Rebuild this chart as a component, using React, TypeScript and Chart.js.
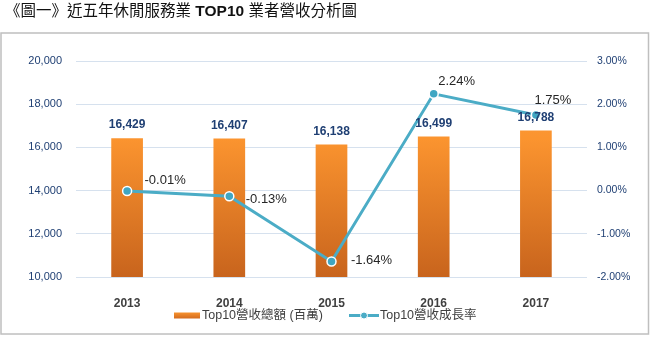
import React, { useEffect, useRef } from 'react';
import { Chart, registerables } from 'chart.js';

Chart.register(...registerables);

const years = ['2013', '2014', '2015', '2016', '2017'];
const revenue = [16429, 16407, 16138, 16499, 16788];
const growth = [-0.01, -0.13, -1.64, 2.24, 1.75];
const titleMain = '《圖一》近五年休閒服務業 ';
const titleBold = 'TOP10';
const titleEnd = ' 業者營收分析圖';
const barLabel = 'Top10營收總額 (百萬)';
const lineLabel = 'Top10營收成長率';
// label offsets (px) of growth labels relative to their points
const growthLabelOffsets = [
  [38, -11],
  [37, 3],
  [40, -1],
  [23, -12],
  [17, -15],
];

const FONT = "'Liberation Sans', 'Noto Sans CJK TC', sans-serif";
const LINE_COLOR = '#4BACC6';

const decorPlugin = {
  id: 'decor',
  afterDatasetsDraw(chart: any) {
    const ctx = chart.ctx;
    const barMeta = chart.getDatasetMeta(1);
    const lineMeta = chart.getDatasetMeta(0);
    ctx.save();
    ctx.font = `bold 12px ${FONT}`;
    ctx.fillStyle = '#1F3F73';
    ctx.textAlign = 'center';
    ctx.textBaseline = 'middle';
    barMeta.data.forEach((el: any, i: number) => {
      ctx.fillText(revenue[i].toLocaleString('en-US'), el.x, el.y - 13);
    });
    ctx.font = `13px ${FONT}`;
    ctx.fillStyle = '#262626';
    lineMeta.data.forEach((el: any, i: number) => {
      const [dx, dy] = growthLabelOffsets[i];
      ctx.fillText(growth[i].toFixed(2) + '%', el.x + dx, el.y + dy);
    });
    ctx.restore();
  },
  afterDraw(chart: any) {
    const ctx = chart.ctx;
    ctx.save();
    ctx.strokeStyle = '#BFBFBF';
    ctx.lineWidth = 1.5;
    ctx.strokeRect(1, 33, 647.5, 301);
    ctx.textBaseline = 'middle';
    ctx.textAlign = 'left';
    ctx.fillStyle = '#111';
    let x = 5;
    const ty = 12;
    ctx.font = `15.5px ${FONT}`;
    ctx.fillText(titleMain, x, ty);
    x += ctx.measureText(titleMain).width;
    ctx.font = `bold 15.5px ${FONT}`;
    ctx.fillText(titleBold, x, ty);
    x += ctx.measureText(titleBold).width;
    ctx.font = `15.5px ${FONT}`;
    ctx.fillText(titleEnd, x, ty);
    const ly = 315.5;
    const g = ctx.createLinearGradient(0, ly - 3, 0, ly + 3);
    g.addColorStop(0, '#F7922E');
    g.addColorStop(1, '#D36B1E');
    ctx.fillStyle = g;
    ctx.fillRect(174, ly - 3, 26, 6);
    ctx.font = `12.5px ${FONT}`;
    ctx.fillStyle = '#404040';
    ctx.fillText(barLabel, 202, ly);
    ctx.strokeStyle = LINE_COLOR;
    ctx.lineWidth = 3;
    ctx.beginPath();
    ctx.moveTo(349, ly);
    ctx.lineTo(379, ly);
    ctx.stroke();
    ctx.beginPath();
    ctx.arc(364, ly, 3.5, 0, Math.PI * 2);
    ctx.fillStyle = LINE_COLOR;
    ctx.fill();
    ctx.lineWidth = 1;
    ctx.strokeStyle = '#fff';
    ctx.stroke();
    ctx.fillStyle = '#404040';
    ctx.fillText(lineLabel, 380, ly);
    ctx.restore();
  },
};

export default function App() {
  const ref = useRef<HTMLCanvasElement | null>(null);
  useEffect(() => {
    if (!ref.current) return;
    const chart = new Chart(ref.current, {
      type: 'bar',
      data: {
        labels: years,
        datasets: [
          {
            type: 'line',
            label: lineLabel,
            data: growth,
            yAxisID: 'y1',
            borderColor: LINE_COLOR,
            borderWidth: 3,
            pointRadius: 4.5,
            pointBackgroundColor: '#3FA6C2',
            pointBorderColor: '#ffffff',
            pointBorderWidth: 1.5,
            tension: 0,
            order: 0,
          } as any,
          {
            type: 'bar',
            label: barLabel,
            data: revenue,
            yAxisID: 'y',
            barPercentage: 0.31,
            categoryPercentage: 1,
            backgroundColor: (c: any) => {
              const area = c.chart.chartArea;
              if (!area) return '#F7922E';
              const gr = c.chart.ctx.createLinearGradient(0, area.top, 0, area.bottom);
              gr.addColorStop(0, '#FFA040');
              gr.addColorStop(0.36, '#FB942F');
              gr.addColorStop(1, '#C8641D');
              return gr;
            },
            order: 1,
          },
        ],
      },
      options: {
        responsive: false,
        animation: false,
        devicePixelRatio: 1,
        layout: { padding: { top: 61, left: 0, right: 0, bottom: 0 } },
        plugins: {
          legend: { display: false },
          title: { display: false },
          tooltip: { enabled: false },
        },
        scales: {
          x: {
            offset: true,
            grid: { display: false },
            border: { display: false },
            ticks: {
              color: '#404040',
              font: { family: FONT, size: 12, weight: 'bold' },
              padding: 11,
            },
            afterFit: (s: any) => {
              s.height = 60;
            },
          },
          y: {
            position: 'left',
            min: 10000,
            max: 20000,
            ticks: {
              stepSize: 2000,
              color: '#1F3F73',
              font: { family: FONT, size: 11 },
              padding: 14,
              callback: (v: any) => Number(v).toLocaleString('en-US'),
            },
            grid: { color: '#D6E1EE', lineWidth: 1, drawTicks: false },
            border: { display: false },
            afterFit: (s: any) => {
              s.width = 76;
            },
          },
          y1: {
            position: 'right',
            min: -2,
            max: 3,
            ticks: {
              stepSize: 1,
              color: '#1F3F73',
              font: { family: FONT, size: 10.5 },
              padding: 10,
              callback: (v: any) => Number(v).toFixed(2) + '%',
            },
            grid: { display: false, drawTicks: false },
            border: { display: false },
            afterFit: (s: any) => {
              s.width = 63;
            },
          },
        },
      } as any,
      plugins: [decorPlugin],
    });
    return () => chart.destroy();
  }, []);
  return (
    <div style={{ position: 'absolute', left: 0, top: 0, width: 650, height: 337, background: '#fff' }}>
      <canvas ref={ref} width={650} height={337} style={{ display: 'block' }} />
    </div>
  );
}
